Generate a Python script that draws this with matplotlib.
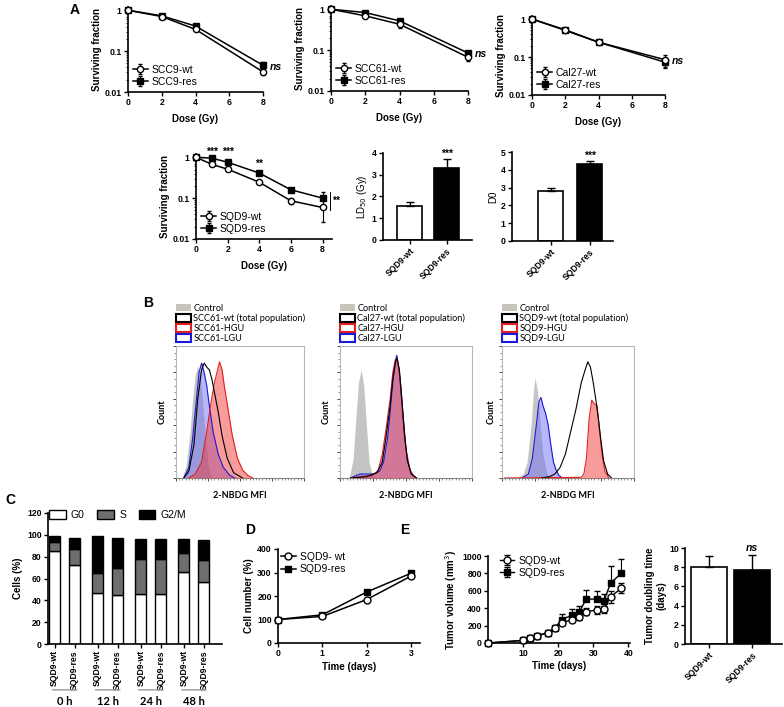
import numpy as np
import matplotlib.pyplot as plt
from matplotlib.patches import Patch
from matplotlib.ticker import LogLocator, NullFormatter, FixedLocator, MultipleLocator

plt.rcParams['font.family'] = ['Liberation Sans', 'DejaVu Sans']
plt.rcParams['axes.linewidth'] = 1.2
plt.rcParams['xtick.major.width'] = 1.0
plt.rcParams['ytick.major.width'] = 1.0
plt.rcParams['xtick.major.size'] = 3
plt.rcParams['ytick.major.size'] = 3
plt.rcParams['xtick.major.pad'] = 1.5
plt.rcParams['ytick.major.pad'] = 1.5

# ---------------- data ----------------
# A: clonogenic survival
dose4 = [0, 2, 4, 8]
scc9_wt = [1.0, 0.70, 0.34, 0.031]
scc9_wt_err = [0.0, 0.03, 0.02, 0.005]
scc9_res = [1.0, 0.73, 0.41, 0.045]
scc9_res_err = [0.0, 0.03, 0.02, 0.008]

scc61_wt = [1.0, 0.69, 0.43, 0.067]
scc61_wt_err = [0.0, 0.04, 0.09, 0.012]
scc61_res = [1.0, 0.83, 0.52, 0.085]
scc61_res_err = [0.0, 0.04, 0.05, 0.01]

cal27_wt = [1.0, 0.50, 0.245, 0.085]
cal27_wt_err = [0.0, 0.05, 0.02, 0.03]
cal27_res = [1.0, 0.52, 0.245, 0.073]
cal27_res_err = [0.0, 0.06, 0.02, 0.022]

dose6 = [0, 1, 2, 4, 6, 8]
sqd9_wt = [1.0, 0.67, 0.51, 0.245, 0.086, 0.059]
sqd9_wt_err = [0.0, 0.03, 0.03, 0.02, 0.015, 0.033]
sqd9_res = [1.0, 0.95, 0.755, 0.41, 0.16, 0.10]
sqd9_res_err = [0.0, 0.04, 0.04, 0.03, 0.02, 0.04]

bar_groups = ['SQD9-wt', 'SQD9-res']
ld50 = [1.57, 3.33]
ld50_err = [0.17, 0.38]
d0 = [2.81, 4.32]
d0_err = [0.15, 0.16]

# B: 2-NBDG flow histograms (x: % of axis, y: % of max count)
b_titles = ['SCC61', 'Cal27', 'SQD9']
ctrl_x = [[5, 8, 11, 13, 15, 17, 19, 21, 23, 25, 28],
          [7, 10, 12, 14, 16, 18, 20, 22, 25],
          [12, 16, 19, 22, 24, 25, 27, 29, 31, 34, 36]]
ctrl_y = [[0, 10, 35, 60, 78, 85, 78, 55, 30, 10, 0],
          [0, 15, 45, 72, 82, 70, 40, 12, 0],
          [0, 3, 12, 40, 68, 76, 65, 40, 18, 4, 0]]
lgu_x = [[6, 10, 13, 16, 18, 20, 22, 24, 26, 29, 33, 37, 42, 46],
         [8, 15, 25, 30, 33, 36, 38, 40, 42, 43, 45, 47, 49, 51, 54, 58],
         [15, 20, 23, 26, 28, 29.5, 31, 33, 35, 37, 39, 41, 43, 46]]
lgu_y = [[0, 8, 30, 60, 80, 87, 80, 70, 55, 35, 18, 8, 2, 0],
         [0, 3, 3, 5, 12, 30, 50, 72, 88, 93, 80, 55, 30, 13, 3, 0],
         [0, 3, 15, 40, 58, 61, 55, 49, 40, 25, 12, 6, 2, 0]]
hgu_x = [[10, 15, 20, 24, 27, 30, 32, 34, 36, 38, 41, 44, 48, 52, 56, 60],
         [8, 15, 25, 29, 32, 35, 38, 40, 42, 44, 46, 48, 50, 53, 57],
         [2, 60, 62, 64, 66, 68, 70, 72, 74, 76, 78, 81]]
hgu_y = [[0, 3, 12, 35, 55, 72, 80, 88, 82, 68, 50, 32, 15, 6, 2, 0],
         [0, 1, 2, 6, 18, 38, 60, 80, 90, 88, 70, 45, 22, 6, 0],
         [0, 0.5, 3, 15, 45, 59, 56, 55, 35, 16, 5, 0]]
tot_x = [[6, 10, 14, 17, 20, 22, 24, 26, 28, 30, 33, 36, 40, 45, 52],
         [8, 20, 28, 32, 35, 38, 40, 42, 43, 45, 47, 49, 51, 54, 58],
         [30, 36, 40, 44, 48, 52, 56, 60, 63, 65, 67, 69, 71, 73, 75, 77, 80, 83]]
tot_y = [[0, 5, 25, 60, 82, 87, 84, 82, 75, 65, 50, 32, 15, 4, 0],
         [0, 1, 4, 12, 32, 55, 75, 88, 91, 82, 58, 32, 14, 3, 0],
         [0, 1, 3, 8, 18, 35, 52, 72, 82, 88, 84, 73, 60, 45, 28, 13, 3, 0]]

# C: cell cycle
cc_labels = ['SQD9-wt', 'SQD9-res'] * 4
cc_times = ['0 h', '12 h', '24 h', '48 h']
g0 = [85, 72, 47, 45, 46, 46, 65.5, 56.5]
s_top = [93, 87, 65, 69.5, 78, 78, 83, 77]
total = [98.5, 97.5, 98.5, 97.5, 96, 96.5, 96, 95.5]

# D: proliferation
days = [0, 1, 2, 3]
prol_wt = [100, 113, 185, 285]
prol_res = [100, 120, 217, 297]

# E: tumour growth
tdays = [0, 10, 12, 14, 17, 19, 21, 24, 26, 28, 31, 33, 35, 38]
vol_wt = [0, 30, 55, 80, 120, 170, 230, 270, 300, 360, 380, 390, 530, 630]
vol_wt_err = [0, 10, 10, 12, 15, 20, 25, 30, 35, 40, 45, 40, 70, 60]
vol_res = [0, 30, 55, 80, 120, 170, 270, 320, 355, 505, 505, 480, 690, 800]
vol_res_err = [0, 10, 10, 12, 15, 20, 60, 70, 70, 100, 90, 80, 190, 170]
dbl = [8.0, 7.7]
dbl_err = [1.15, 1.55]

# ---------------- figure ----------------
W, H = 784, 707
fig = plt.figure(figsize=(W / 100, H / 100), dpi=100)


def px_ax(l, t, r, b):
    return fig.add_axes([l / W, 1 - b / H, (r - l) / W, (b - t) / H])


def prism(ax):
    for s in ['top', 'right']:
        ax.spines[s].set_visible(False)
    ax.tick_params(labelsize=6.2)
    for lab in ax.get_xticklabels() + ax.get_yticklabels():
        lab.set_fontweight('bold')


LBL = dict(fontsize=7, fontweight='bold')
LEG = dict(frameon=False, fontsize=7.5, handlelength=1.4, handletextpad=0.4, labelspacing=0.2)


def survival(ax, x, wt, wte, res, rese, names):
    ax.errorbar(x, res, yerr=rese, marker='s', ms=4.2, color='black', mfc='black', lw=1.1,
                elinewidth=0.8, capsize=1.5, clip_on=False, zorder=3, label=names[1])
    ax.errorbar(x, wt, yerr=wte, marker='o', ms=4.5, color='black', mfc='white', mew=1.0, lw=1.1,
                elinewidth=0.8, capsize=1.5, clip_on=False, zorder=4, label=names[0])
    ax.set_yscale('log')
    ax.set_ylim(0.01, 1.2)
    ax.set_xlim(0, 8)
    ax.set_xticks([0, 2, 4, 6, 8])
    ax.yaxis.set_major_locator(FixedLocator([0.01, 0.1, 1]))
    ax.set_yticklabels(['0.01', '0.1', '1'])
    ax.yaxis.set_minor_locator(LogLocator(subs=np.arange(2, 10)))
    ax.yaxis.set_minor_formatter(NullFormatter())
    ax.tick_params(axis='y', which='minor', length=1.5, width=0.6)
    ax.set_xlabel('Dose (Gy)', labelpad=5, **LBL)
    ax.set_ylabel('Surviving fraction', labelpad=2, **LBL)
    prism(ax)
    h, l = ax.get_legend_handles_labels()
    ax.legend(h[::-1], l[::-1], loc='lower left', borderpad=0.2, borderaxespad=0.3, **LEG)


# Row 1 of A
ax1 = px_ax(128, 7, 263, 92)
survival(ax1, dose4, scc9_wt, scc9_wt_err, scc9_res, scc9_res_err, ['SCC9-wt', 'SCC9-res'])
ax1.text(8.4, 0.04, 'ns', fontsize=7.5, style='italic', fontweight='bold', va='center')

ax2 = px_ax(331, 6, 468, 91)
survival(ax2, dose4, scc61_wt, scc61_wt_err, scc61_res, scc61_res_err, ['SCC61-wt', 'SCC61-res'])
ax2.text(8.4, 0.08, 'ns', fontsize=7.5, style='italic', fontweight='bold', va='center')

ax3 = px_ax(532, 16, 665, 95)
survival(ax3, dose4, cal27_wt, cal27_wt_err, cal27_res, cal27_res_err, ['Cal27-wt', 'Cal27-res'])
ax3.text(8.4, 0.08, 'ns', fontsize=7.5, style='italic', fontweight='bold', va='center')

fig.text(70 / W, 1 - 10 / H, 'A', fontsize=10, fontweight='bold', va='center')

# Row 2 of A
ax4 = px_ax(196, 154, 332, 239)
survival(ax4, dose6, sqd9_wt, sqd9_wt_err, sqd9_res, sqd9_res_err, ['SQD9-wt', 'SQD9-res'])
ax4.set_xlim(0, 8.6)
for d, yy, st in [(1, 1.32, '***'), (2, 1.32, '***'), (4, 0.70, '**')]:
    ax4.text(d, yy, st, ha='center', va='center', fontsize=7.5, fontweight='bold', clip_on=False)
ax4.plot([8.45, 8.45], [0.052, 0.14], color='black', lw=0.7, clip_on=False)
ax4.text(8.6, 0.085, '**', fontsize=7.5, fontweight='bold', va='center')


def twobars(ax, vals, errs, ymax, ylab, xl, width, star):
    ax.bar([0, 1], vals, width=width, color=['white', 'black'], edgecolor='black', lw=1.2)
    ax.errorbar([0, 1], vals, yerr=[[0, 0], errs], fmt='none', ecolor='black', elinewidth=1.0,
                capsize=3, capthick=1.0)
    ax.set_ylim(0, ymax)
    ax.set_xlim(*xl)
    ax.set_xticks([0, 1])
    ax.set_xticklabels(bar_groups, rotation=45, ha='right', rotation_mode='anchor')
    ax.set_ylabel(ylab, labelpad=2, **LBL)
    prism(ax)
    if star:
        ax.text(1, vals[1] + errs[1] + ymax * 0.01, star, ha='center', va='bottom', fontsize=7.5,
                fontweight='bold')


ax5 = px_ax(383, 153, 472, 240)
twobars(ax5, ld50, ld50_err, 4, 'LD$_{50}$ (Gy)', (-0.72, 1.69), 0.68, '***')
ax5.set_yticks([0, 1, 2, 3, 4])
for lab in ax5.get_yticklabels():
    lab.set_fontweight('bold')
ax5.yaxis.label.set_fontweight('normal')

ax6 = px_ax(512, 152, 613, 241)
twobars(ax6, d0, d0_err, 5, 'D0', (-0.99, 1.6), 0.64, '***')
ax6.yaxis.label.set_fontweight('normal')

# ---------------- B ----------------
bfont = ['Lato', 'DejaVu Sans']
boxes = [(176, 346, 304, 478), (340, 346, 472, 478), (502, 346, 634, 478)]
count_x = [162, 326, 491]
for i, (l, t, r, b) in enumerate(boxes):
    ax = px_ax(l, t, r, b)
    ax.fill_between(ctrl_x[i], ctrl_y[i], color='#c4c4c4', lw=0, zorder=1)
    ax.fill_between(lgu_x[i], lgu_y[i], color='#7070f4', alpha=0.5, lw=0, zorder=2)
    ax.plot(lgu_x[i], lgu_y[i], color='#1a1ad8', lw=0.8, zorder=4)
    ax.fill_between(hgu_x[i], hgu_y[i], color='#f03838', alpha=0.5, lw=0, zorder=3)
    ax.plot(hgu_x[i], hgu_y[i], color='#e02020', lw=0.8, zorder=4)
    ax.plot(tot_x[i], tot_y[i], color='black', lw=0.8, zorder=5)
    ax.set_xlim(0, 100)
    ax.set_ylim(0, 100)
    for s in ax.spines.values():
        s.set_color('#b8b8b8')
        s.set_linewidth(0.8)
    ax.spines['bottom'].set_color('#888888')
    ax.xaxis.set_major_locator(MultipleLocator(25))
    ax.xaxis.set_minor_locator(MultipleLocator(2.5))
    ax.yaxis.set_major_locator(MultipleLocator(20))
    ax.yaxis.set_minor_locator(MultipleLocator(5))
    ax.tick_params(which='major', length=2.5, width=0.7, labelbottom=False, labelleft=False,
                   color='#444444')
    ax.tick_params(which='minor', length=1.2, width=0.5, color='#666666')
    ax.set_xlabel('2-NBDG MFI', fontsize=6.5, fontweight='bold', family=bfont, labelpad=5)
    fig.text(count_x[i] / W, 1 - 412 / H, 'Count', rotation=90, ha='center', va='center',
             fontsize=6.5, fontweight='bold', family=bfont)
    name = b_titles[i]
    handles = [Patch(facecolor='#c9c4ba', edgecolor='none'),
               Patch(facecolor='white', edgecolor='black', lw=1.5),
               Patch(facecolor='white', edgecolor='#e02020', lw=1.5),
               Patch(facecolor='white', edgecolor='#1a1ad8', lw=1.5)]
    labels = ['Control', name + '-wt (total population)', name + '-HGU', name + '-LGU']
    ax.legend(handles, labels, loc='lower left', bbox_to_anchor=(0.0, 1.02), frameon=False,
              prop={'family': bfont, 'size': 6.6}, handlelength=1.6, handleheight=0.9,
              handletextpad=0.3, labelspacing=0.12, borderpad=0, borderaxespad=0)

fig.text(143 / W, 1 - 303 / H, 'B', fontsize=10, fontweight='bold', va='center')

# ---------------- C ----------------
axc = px_ax(48, 513, 222, 644)
pos = [g * 2.15 + k for g in range(4) for k in range(2)]
s_part = [s - g for s, g in zip(s_top, g0)]
g2_part = [t - s for t, s in zip(total, s_top)]
axc.bar(pos, g0, width=0.55, color='white', edgecolor='black', lw=1.0, label='G0')
axc.bar(pos, s_part, bottom=g0, width=0.55, color='#6e6e6e', edgecolor='black', lw=1.0, label='S')
axc.bar(pos, g2_part, bottom=s_top, width=0.55, color='black', edgecolor='black', lw=1.0,
        label='G2/M')
axc.set_xlim(-0.33, 8.35)
axc.set_ylim(0, 120)
axc.set_yticks(range(0, 121, 20))
axc.set_xticks(pos)
axc.set_xticklabels(cc_labels, rotation=90)
axc.set_ylabel('Cells (%)', labelpad=3, **LBL)
prism(axc)
axc.legend(loc='upper left', ncol=3, frameon=False, fontsize=7.5, handlelength=1.6, handleheight=0.9,
           columnspacing=1.2, handletextpad=0.5, borderpad=0, borderaxespad=0.1,
           bbox_to_anchor=(0.0, 1.03))
for g, lab in enumerate(cc_times):
    xc = g * 2.15 + 0.5
    axc.annotate('', xy=(xc - 0.75, -0.35), xytext=(xc + 0.75, -0.35), xycoords=('data', 'axes fraction'),
                 arrowprops=dict(arrowstyle='-', color='#999999', lw=1.0))
    axc.text(xc, -0.44, lab, transform=axc.get_xaxis_transform(), ha='center', va='center',
             fontsize=8, fontweight='bold', family=bfont)
fig.text(5 / W, 1 - 500 / H, 'C', fontsize=10, fontweight='bold', va='center')

# ---------------- D ----------------
axd = px_ax(278, 549, 420, 643)
axd.plot(days, prol_res, marker='s', ms=4.5, color='black', lw=1.1, clip_on=False,
         label='SQD9-res', zorder=3)
axd.plot(days, prol_wt, marker='o', ms=5, color='black', mfc='white', lw=1.1, clip_on=False,
         label='SQD9- wt', zorder=4)
axd.set_xlim(0, 3.2)
axd.set_ylim(0, 400)
axd.set_xticks(days)
axd.set_yticks([0, 100, 200, 300, 400])
axd.set_xlabel('Time (days)', labelpad=3, **LBL)
axd.set_ylabel('Cell number (%)', labelpad=2, **LBL)
prism(axd)
h, l = axd.get_legend_handles_labels()
axd.legend(h[::-1], l[::-1], loc='upper left', borderpad=0.1, borderaxespad=0.2, **LEG)
fig.text(245 / W, 1 - 530 / H, 'D', fontsize=10, fontweight='bold', va='center')

# ---------------- E ----------------
axe = px_ax(488, 556, 630, 643)
axe.errorbar(tdays, vol_res, yerr=[[0] * len(vol_res_err), vol_res_err], marker='s', ms=4.5,
             color='black', lw=1.0, elinewidth=0.8, capsize=2, clip_on=False, label='SQD9-res', zorder=3)
axe.errorbar(tdays, vol_wt, yerr=vol_wt_err, marker='o', ms=5, color='black', mfc='white', lw=1.0,
             elinewidth=0.8, capsize=2, clip_on=False, label='SQD9-wt', zorder=4)
axe.set_xlim(0, 40.5)
axe.set_ylim(0, 1000)
axe.set_xticks([10, 20, 30, 40])
axe.set_yticks([0, 200, 400, 600, 800, 1000])
axe.set_xlabel('Time (days)', labelpad=2, **LBL)
axe.set_ylabel('Tumor volume (mm$^3$)', labelpad=2, **LBL)
prism(axe)
h, l = axe.get_legend_handles_labels()
axe.legend(h[::-1], l[::-1], loc='upper left', borderpad=0.1, borderaxespad=0.2,
           bbox_to_anchor=(0.06, 1.04), **LEG)
fig.text(400 / W, 1 - 530 / H, 'E', fontsize=10, fontweight='bold', va='center')

axf = px_ax(685, 548, 782, 644)
twobars(axf, dbl, dbl_err, 10, 'Tumor doubling time\n(days)', (-0.56, 1.7), 0.83, None)
axf.set_yticks([0, 2, 4, 6, 8, 10])
for lab in axf.get_yticklabels():
    lab.set_fontweight('bold')
axf.text(1, dbl[1] + dbl_err[1] + 0.2, 'ns', ha='center', va='bottom', fontsize=7.5,
         style='italic', fontweight='bold')

fig.savefig('out.png', dpi=100)
